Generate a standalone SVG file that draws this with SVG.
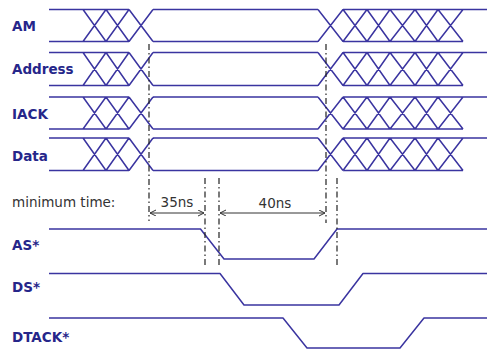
<svg xmlns="http://www.w3.org/2000/svg" width="487" height="349" viewBox="0 0 487 349">
<style>
.sig{fill:none;stroke:#3a34a0;stroke-width:1.5;stroke-linejoin:round}
.lbl{font-family:"DejaVu Sans",Verdana,sans-serif;font-weight:bold;font-size:13.5px;fill:#26268a}
.txt{font-family:"DejaVu Sans",Verdana,sans-serif;font-size:13.5px;fill:#333}
.dd{fill:none;stroke:#222;stroke-width:1.2;stroke-dasharray:6,3,1.5,3}
.arr{fill:none;stroke:#333;stroke-width:1}
</style>
<defs>
<marker id="ah" markerWidth="8" markerHeight="8" refX="6" refY="3" orient="auto-start-reverse" markerUnits="userSpaceOnUse">
<path d="M0,0 L6,3 L0,6" fill="none" stroke="#333" stroke-width="1"/>
</marker>
</defs>
<rect width="487" height="349" fill="#fff"/>

<g id="AM">
<text class="lbl" x="12" y="31">AM</text>
<path class="sig" d="M49,9.5H129M49,41.5H129M153,9.5H318M153,41.5H318M343,9.5H487M343,41.5H463
M83,9.5L106,41.5M83,41.5L106,9.5M106,9.5L129,41.5M106,41.5L129,9.5M129,9.5L153,41.5M129,41.5L153,9.5
M318,9.5L343,41.5M318,41.5L343,9.5M343,9.5L367,41.5M343,41.5L367,9.5M367,9.5L390,41.5M367,41.5L390,9.5M390,9.5L415,41.5M390,41.5L415,9.5M415,9.5L438,41.5M415,41.5L438,9.5M438,9.5L463,41.5M438,41.5L463,9.5"/>
</g>

<g id="Address">
<text class="lbl" x="12" y="74">Address</text>
<path class="sig" d="M49,52.5H129M49,85.5H129M153,52.5H318M153,85.5H318M343,52.5H487M343,85.5H463
M83,52.5L106,85.5M83,85.5L106,52.5M106,52.5L129,85.5M106,85.5L129,52.5M129,52.5L153,85.5M129,85.5L153,52.5
M318,52.5L343,85.5M318,85.5L343,52.5M343,52.5L367,85.5M343,85.5L367,52.5M367,52.5L390,85.5M367,85.5L390,52.5M390,52.5L415,85.5M390,85.5L415,52.5M415,52.5L438,85.5M415,85.5L438,52.5M438,52.5L463,85.5M438,85.5L463,52.5"/>
</g>

<g id="IACK">
<text class="lbl" x="12" y="119">IACK</text>
<path class="sig" d="M49,97H129M49,129H129M153,97H318M153,129H318M343,97H487M343,129H463
M83,97L106,129M83,129L106,97M106,97L129,129M106,129L129,97M129,97L153,129M129,129L153,97
M318,97L343,129M318,129L343,97M343,97L367,129M343,129L367,97M367,97L390,129M367,129L390,97M390,97L415,129M390,129L415,97M415,97L438,129M415,129L438,97M438,97L463,129M438,129L463,97"/>
</g>

<g id="Data">
<text class="lbl" x="12" y="161">Data</text>
<path class="sig" d="M49,138H129M49,170.5H129M153,138H318M153,170.5H318M343,138H487M343,170.5H463
M83,138L106,170.5M83,170.5L106,138M106,138L129,170.5M106,170.5L129,138M129,138L153,170.5M129,170.5L153,138
M318,138L343,170.5M318,170.5L343,138M343,138L367,170.5M343,170.5L367,138M367,138L390,170.5M367,170.5L390,138M390,138L415,170.5M390,170.5L415,138M415,138L438,170.5M415,170.5L438,138M438,138L463,170.5M438,170.5L463,138"/>
</g>

<g id="minimum-time">
<text class="txt" x="12" y="207">minimum time:</text>
</g>

<g id="AS">
<text class="lbl" x="12" y="250">AS*</text>
<path class="sig" d="M49,229H200.5L224,259H314L337,229H487"/>
</g>

<g id="DS">
<text class="lbl" x="12" y="292">DS*</text>
<path class="sig" d="M49,273.5H220L244,305H339L363,273.5H487"/>
</g>

<g id="DTACK">
<text class="lbl" x="12" y="342">DTACK*</text>
<path class="sig" d="M49,318H283L307,348H400L424,318H487"/>
</g>

<g id="connectors">
<path class="dd" d="M149,44V221"/>
<path class="dd" d="M326,44V223"/>
<path class="dd" d="M205,178V268"/>
<path class="dd" d="M219,178V268"/>
<path class="dd" d="M337,178V268"/>
<path class="arr" d="M150,213H204" marker-start="url(#ah)" marker-end="url(#ah)"/>
<path class="arr" d="M220,213H325" marker-start="url(#ah)" marker-end="url(#ah)"/>
<text class="txt" x="177" y="207" text-anchor="middle">35ns</text>
<text class="txt" x="275" y="208" text-anchor="middle">40ns</text>
</g>
</svg>
